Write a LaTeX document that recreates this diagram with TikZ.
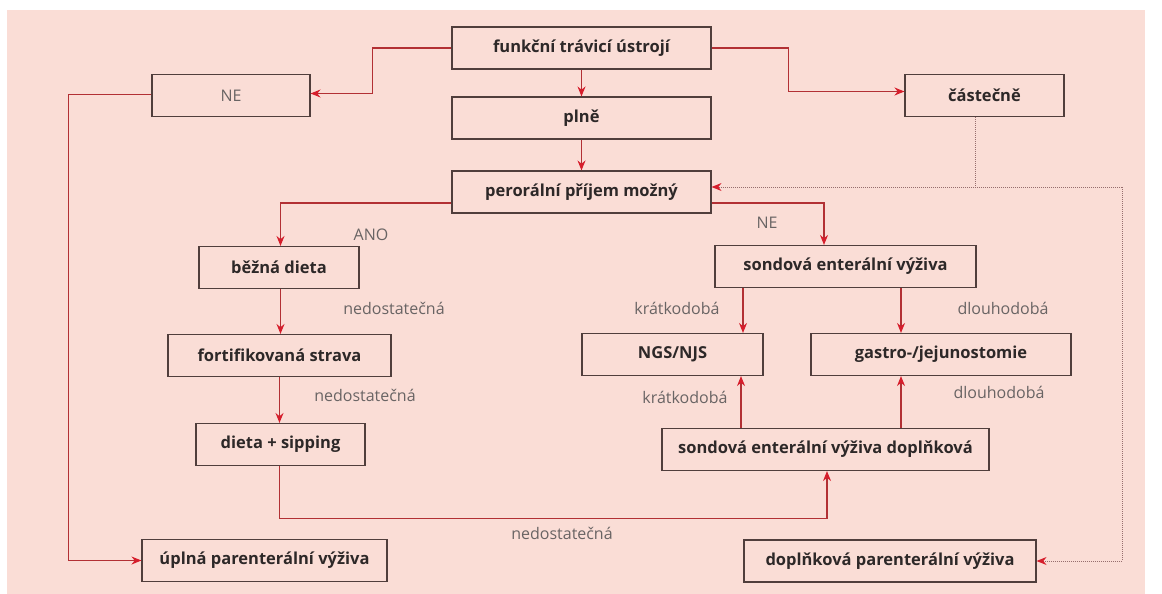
\documentclass[tikz,border=0pt]{standalone}
\usepackage{fontspec}
\setmainfont{Open Sans}
\usetikzlibrary{arrows.meta}
\definecolor{bgpink}{RGB}{250,221,214}
\definecolor{linered}{RGB}{178,48,52}
\definecolor{tipred}{RGB}{214,30,44}
\definecolor{boxline}{RGB}{80,62,60}
\definecolor{labelgray}{RGB}{105,100,100}
\definecolor{textdark}{RGB}{45,40,40}
\definecolor{dotgray}{RGB}{150,110,110}
\tikzset{
  box/.style={draw=boxline, line width=1.1pt, minimum height=42pt, inner sep=0pt,
    font=\fontsize{16.5}{18}\selectfont\bfseries, text=textdark},
  plainbox/.style={box, font=\fontsize{16}{18}\selectfont, text=labelgray},
  con/.style={draw=linered, line width=1.1pt,
    -{Stealth[length=10pt,width=8pt,color=tipred]}},
  dotline/.style={draw=dotgray, line width=1pt, dash pattern=on 1pt off 1pt},
  dotcon/.style={dotline, -{Stealth[length=10pt,width=8pt,color=tipred]}},
  lbl/.style={font=\fontsize{16}{18}\selectfont, text=labelgray, inner sep=0pt}
}
\begin{document}
\begin{tikzpicture}[x=1pt,y=-1pt]
\useasboundingbox (0,0) rectangle (1162,594);
\fill[white] (0,0) rectangle (1162,594);
\fill[bgpink] (7,10) rectangle (1145,594);

% boxes
\node[box, minimum width=259pt] (fun) at (581.5,48) {funkční trávicí ústrojí};
\node[box, minimum width=259pt] (plne) at (581.5,118) {plně};
\node[box, minimum width=259pt] (per) at (581.5,192) {perorální příjem možný};
\node[plainbox, minimum width=158pt] (ne) at (231,95.5) {NE};
\node[box, minimum width=159pt] (cas) at (984.5,95.5) {částečně};
\node[box, minimum width=160pt] (bez) at (279,267.5) {běžná dieta};
\node[box, minimum width=223pt] (fort) at (279.5,355.5) {fortifikovaná strava};
\node[box, minimum width=169pt] (sip) at (280.5,444.5) {dieta + sipping};
\node[box, minimum width=245pt] (upl) at (264.5,560.5) {úplná parenterální výživa};
\node[box, minimum width=261pt] (son) at (845.5,266.5) {sondová enterální výživa};
\node[box, minimum width=181pt] (ngs) at (672.5,354.5) {NGS/NJS};
\node[box, minimum width=260pt] (gas) at (941,354.5) {gastro-/jejunostomie};
\node[box, minimum width=327pt] (sdop) at (825.5,449.5) {sondová enterální výživa doplňková};
\node[box, minimum width=292pt] (dpar) at (890,561) {doplňková parenterální výživa};

% connectors
\draw[con] (fun.west) -- ++(-79,0) |- ([yshift=2pt]ne.east);
\draw[con] (fun.east) -- ++(77,0) |- ([yshift=4pt]cas.west);
\draw[con] (fun.south) -- (plne.north);
\draw[con] (plne.south) -- (per.north);
\draw[con] ([yshift=1pt]ne.west) -- ++(-83,0) |- (upl.west);
\draw[con] ([yshift=-11pt]per.west) -| ([xshift=1.5pt]bez.north);
\draw[con] ([yshift=-11pt]per.east) -| ([xshift=-21.5pt]son.north);
\draw[con] ([xshift=1.5pt]bez.south) -- ([xshift=1pt]fort.north);
\draw[con] (fort.south) -- ([xshift=-1pt]sip.north);
\draw[con] ([xshift=-1pt]sip.south) -- ++(0,52) -| ([xshift=1.5pt]sdop.south);
\draw[con] ([xshift=-102.5pt]son.south) -- ([xshift=-102.5pt]son.south |- ngs.north);
\draw[con] ([xshift=55.5pt]son.south) -- ([xshift=55.5pt]son.south |- gas.north);
\draw[con] ([xshift=-84.5pt]sdop.north) -- ([xshift=-84.5pt]sdop.north |- ngs.south);
\draw[con] ([xshift=75.5pt]sdop.north) -- ([xshift=75.5pt]sdop.north |- gas.south);

% dotted connectors
\coordinate (dc) at (1122,187);
\draw[dotline] ([xshift=-9.5pt]cas.south) -- ([xshift=-9.5pt]cas.south |- dc);
\draw[dotcon] (dc) -- ([yshift=5pt]per.east);
\draw[dotcon] (dc) |- (dpar.east);

% labels
\node[lbl] (l1) at (371,235) {ANO};
\node[lbl] (l2) at (394,308) {nedostatečná};
\node[lbl] (l3) at (365,395) {nedostatečná};
\node[lbl] (l4) at (562,533) {nedostatečná};
\node[lbl] (l5) at (767,223) {NE};
\node[lbl] (l6) at (677,308) {krátkodobá};
\node[lbl] (l7) at (685,397) {krátkodobá};
\node[lbl] (l8) at (1003,308) {dlouhodobá};
\node[lbl] (l9) at (999,392) {dlouhodobá};
\end{tikzpicture}
\end{document}
